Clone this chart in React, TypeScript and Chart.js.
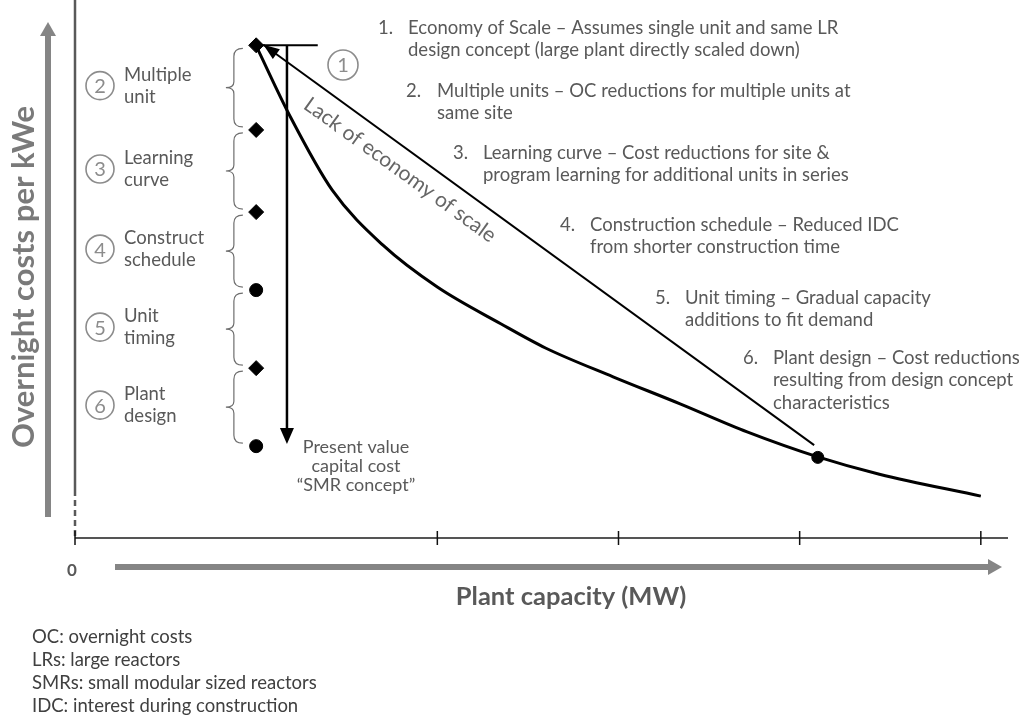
import React, { useEffect, useRef } from "react";
import { Chart, registerables } from "chart.js";

Chart.register(...registerables);

// Curve: present value capital cost vs plant capacity (conceptual units)
const curveX = [1.0, 1.19, 1.42, 1.7, 2.0, 2.35, 2.6, 2.97, 3.34, 3.71, 4.1, 4.44, 5.0];
const curveY = [96.9, 82.9, 68.6, 57.8, 49.6, 42.4, 37.6, 32.0, 26.7, 21.2, 16.3, 12.9, 8.6];

// "Lack of economy of scale" straight line
const lackX = [4.08, 1.04];
const lackY = [18.6, 97.1];

// Step markers for the SMR column
const stepX = [1, 1, 1, 1, 1, 1];
const stepY = [97, 80.4, 64.3, 49, 33.7, 18.4];
const stepStyles = ["rectRot", "rectRot", "rectRot", "circle", "rectRot", "circle"];
const stepSizes = [7.5, 7.5, 7.5, 6.5, 7.5, 6.5];

// Large plant point on the curve
const lrX = [4.1];
const lrY = [16.2];

// Present-value arrow
const pvX = [1.17, 1.17];
const pvY = [97, 19.6];
const topLineX = [1.01, 1.34];
const topLineY = [97, 97];

const xTicks = [2, 3, 4, 5];

const stepLabels = [
  ["2", "Multiple", "unit"],
  ["3", "Learning", "curve"],
  ["4", "Construct", "schedule"],
  ["5", "Unit", "timing"],
  ["6", "Plant", "design"],
];

const itemNums = ["1.", "2.", "3.", "4.", "5.", "6."];
const itemLines = [
  ["Economy of Scale \u2013 Assumes single unit and same LR", "design concept (large plant directly scaled down)"],
  ["Multiple units \u2013 OC reductions for multiple units at", "same site"],
  ["Learning curve \u2013 Cost reductions for site &", "program learning for additional units in series"],
  ["Construction schedule \u2013 Reduced IDC", "from shorter construction time"],
  ["Unit timing \u2013 Gradual capacity", "additions to fit demand"],
  ["Plant design \u2013 Cost reductions", "resulting from design concept", "characteristics"],
];
const footnotes = [
  "OC: overnight costs",
  "LRs: large reactors",
  "SMRs: small modular sized reactors",
  "IDC: interest during construction",
];

const FONT = "Lato, 'Open Sans', sans-serif";

const toPts = (xs: number[], ys: number[]) => xs.map((x, i) => ({ x, y: ys[i] }));

const itemPos = [
  [378, 408, 28],
  [406, 437, 91],
  [453, 483, 153],
  [560, 590, 225],
  [655, 685, 298],
  [743, 773, 358],
];

const annotate = {
  id: "annotate",
  afterDatasetsDraw(chart: any) {
    const ctx = chart.ctx as CanvasRenderingContext2D;
    const xs = chart.scales.x;
    const ys = chart.scales.y;
    const area = chart.chartArea;
    ctx.save();

    // y axis line (solid then dashed)
    ctx.strokeStyle = "#595959";
    ctx.lineWidth = 2.5;
    ctx.beginPath();
    ctx.moveTo(area.left, 0);
    ctx.lineTo(area.left, 490);
    ctx.stroke();
    ctx.setLineDash([6, 4]);
    ctx.beginPath();
    ctx.moveTo(area.left, 490);
    ctx.lineTo(area.left, area.bottom);
    ctx.stroke();
    ctx.setLineDash([]);

    // x axis line with ticks
    ctx.strokeStyle = "#555";
    ctx.lineWidth = 2;
    ctx.beginPath();
    ctx.moveTo(area.left, area.bottom - 2);
    ctx.lineTo(area.right, area.bottom - 2);
    ctx.stroke();
    ctx.strokeStyle = "#111";
    ctx.lineWidth = 1.5;
    xTicks.forEach((t) => {
      const px = xs.getPixelForValue(t);
      ctx.beginPath();
      ctx.moveTo(px, area.bottom - 9);
      ctx.lineTo(px, area.bottom + 5);
      ctx.stroke();
    });
    ctx.beginPath();
    ctx.moveTo(area.left, area.bottom - 9);
    ctx.lineTo(area.left, area.bottom + 5);
    ctx.stroke();

    // gray axis arrows
    ctx.strokeStyle = "#858585";
    ctx.fillStyle = "#858585";
    ctx.lineWidth = 6;
    ctx.beginPath();
    ctx.moveTo(48, 517);
    ctx.lineTo(48, 34);
    ctx.stroke();
    ctx.beginPath();
    ctx.moveTo(40, 36);
    ctx.lineTo(48, 22);
    ctx.lineTo(56, 36);
    ctx.closePath();
    ctx.fill();
    ctx.beginPath();
    ctx.moveTo(115, 567);
    ctx.lineTo(990, 567);
    ctx.stroke();
    ctx.beginPath();
    ctx.moveTo(988, 559);
    ctx.lineTo(1002, 567);
    ctx.lineTo(988, 575);
    ctx.closePath();
    ctx.fill();

    // axis titles
    ctx.fillStyle = "#7a7a7a";
    ctx.font = `bold 31px ${FONT}`;
    ctx.textAlign = "center";
    ctx.textBaseline = "middle";
    ctx.save();
    ctx.translate(24, 277);
    ctx.rotate(-Math.PI / 2);
    ctx.fillText("Overnight costs per kWe", 0, 0);
    ctx.restore();
    ctx.fillStyle = "#595959";
    ctx.font = `bold 25.5px ${FONT}`;
    ctx.fillText("Plant capacity (MW)", 571, 597);
    ctx.font = `bold 17px ${FONT}`;
    ctx.fillStyle = "#595959";
    ctx.fillText("0", 72, 571);

    // arrowheads
    const arrowHead = (tx: number, ty: number, fx: number, fy: number, len: number, w: number) => {
      const a = Math.atan2(ty - fy, tx - fx);
      ctx.beginPath();
      ctx.moveTo(tx, ty);
      ctx.lineTo(tx - len * Math.cos(a) + w * Math.sin(a), ty - len * Math.sin(a) - w * Math.cos(a));
      ctx.lineTo(tx - len * Math.cos(a) - w * Math.sin(a), ty - len * Math.sin(a) + w * Math.cos(a));
      ctx.closePath();
      ctx.fill();
    };
    ctx.fillStyle = "#000";
    arrowHead(
      xs.getPixelForValue(lackX[1]), ys.getPixelForValue(lackY[1]),
      xs.getPixelForValue(lackX[0]), ys.getPixelForValue(lackY[0]), 16, 6
    );
    arrowHead(
      xs.getPixelForValue(pvX[1]), ys.getPixelForValue(pvY[1]) + 4,
      xs.getPixelForValue(pvX[0]), ys.getPixelForValue(pvY[0]), 16, 7
    );

    // braces between step markers
    ctx.strokeStyle = "#6e6e6e";
    ctx.lineWidth = 1.2;
    const bx = xs.getPixelForValue(0.877);
    for (let i = 0; i < stepY.length - 1; i++) {
      const y1 = ys.getPixelForValue(stepY[i]) + 3;
      const y2 = ys.getPixelForValue(stepY[i + 1]) - 3;
      const m = (y1 + y2) / 2;
      ctx.beginPath();
      ctx.moveTo(bx + 9, y1);
      ctx.quadraticCurveTo(bx, y1, bx, y1 + 8);
      ctx.lineTo(bx, m - 6);
      ctx.quadraticCurveTo(bx, m, bx - 8, m);
      ctx.quadraticCurveTo(bx, m, bx, m + 6);
      ctx.lineTo(bx, y2 - 8);
      ctx.quadraticCurveTo(bx, y2, bx + 9, y2);
      ctx.stroke();
    }

    // circled step numbers and labels
    const circ = (cx: number, cy: number, r: number, t: string) => {
      ctx.strokeStyle = "#8c8c8c";
      ctx.lineWidth = 1.6;
      ctx.beginPath();
      ctx.arc(cx, cy, r, 0, Math.PI * 2);
      ctx.stroke();
      ctx.fillStyle = "#8c8c8c";
      ctx.font = `20px ${FONT}`;
      ctx.textAlign = "center";
      ctx.textBaseline = "middle";
      ctx.fillText(t, cx, cy + 1);
    };
    stepLabels.forEach((lab, i) => {
      const cy = (ys.getPixelForValue(stepY[i]) + ys.getPixelForValue(stepY[i + 1])) / 2 - 2;
      circ(100, cy, 14, lab[0]);
      ctx.fillStyle = "#595959";
      ctx.font = `18.5px ${FONT}`;
      ctx.textAlign = "left";
      ctx.fillText(lab[1], 124, cy - 11);
      ctx.fillText(lab[2], 124, cy + 11);
    });
    circ(343, 65, 15, "1");

    // rotated label along the straight line
    ctx.save();
    ctx.translate(400, 170);
    ctx.rotate(Math.atan2(400, 553));
    ctx.fillStyle = "#666";
    ctx.font = `21px ${FONT}`;
    ctx.textAlign = "center";
    ctx.textBaseline = "middle";
    ctx.fillText("Lack of economy of scale", 0, 0);
    ctx.restore();

    // numbered items
    ctx.fillStyle = "#595959";
    ctx.font = `18.5px ${FONT}`;
    ctx.textAlign = "left";
    ctx.textBaseline = "middle";
    itemLines.forEach((lines, i) => {
      const [nx, tx, ty] = itemPos[i];
      ctx.fillText(itemNums[i], nx, ty);
      lines.forEach((l, j) => ctx.fillText(l, tx, ty + j * 22.5));
    });

    // present value label
    ctx.textAlign = "center";
    ctx.font = `18px ${FONT}`;
    ["Present value", "capital cost", "\u201CSMR concept\u201D"].forEach((l, j) =>
      ctx.fillText(l, 356, 447 + j * 19)
    );

    // footnotes
    ctx.textAlign = "left";
    ctx.fillStyle = "#404040";
    ctx.font = `18.5px ${FONT}`;
    footnotes.forEach((f, j) => ctx.fillText(f, 32, 637 + j * 23));

    ctx.restore();
  },
};

export default function App() {
  const ref = useRef<HTMLCanvasElement | null>(null);
  useEffect(() => {
    if (!ref.current) return;
    const chart = new Chart(ref.current, {
      type: "scatter",
      data: {
        datasets: [
          {
            data: toPts(curveX, curveY),
            showLine: true,
            borderColor: "#000",
            borderWidth: 3,
            pointRadius: 0,
            cubicInterpolationMode: "monotone",
            clip: false,
          } as any,
          {
            data: toPts(lackX, lackY),
            showLine: true,
            borderColor: "#000",
            borderWidth: 2,
            pointRadius: 0,
            clip: false,
          },
          {
            data: toPts(pvX, pvY),
            showLine: true,
            borderColor: "#000",
            borderWidth: 2.5,
            pointRadius: 0,
            clip: false,
          },
          {
            data: toPts(topLineX, topLineY),
            showLine: true,
            borderColor: "#000",
            borderWidth: 2,
            pointRadius: 0,
            clip: false,
          },
          {
            data: toPts(stepX, stepY),
            showLine: false,
            pointStyle: stepStyles as any,
            pointRadius: stepSizes,
            backgroundColor: "#000",
            borderColor: "#000",
            clip: false,
          },
          {
            data: toPts(lrX, lrY),
            showLine: false,
            pointRadius: 6,
            backgroundColor: "#000",
            borderColor: "#000",
            clip: false,
          },
        ],
      },
      options: {
        responsive: false,
        animation: false,
        layout: { padding: { left: 75, right: 16, top: 30, bottom: 180 } },
        scales: {
          x: { type: "linear", min: 0, max: 5.15, display: false },
          y: { type: "linear", min: 0, max: 100, display: false },
        },
        plugins: { legend: { display: false }, tooltip: { enabled: false } },
        events: [],
      },
      plugins: [annotate],
    });
    return () => chart.destroy();
  }, []);
  return (
    <div style={{ position: "absolute", left: 0, top: 0, width: 1024, height: 720, background: "#fff" }}>
      <canvas ref={ref} width={1024} height={720} />
    </div>
  );
}
